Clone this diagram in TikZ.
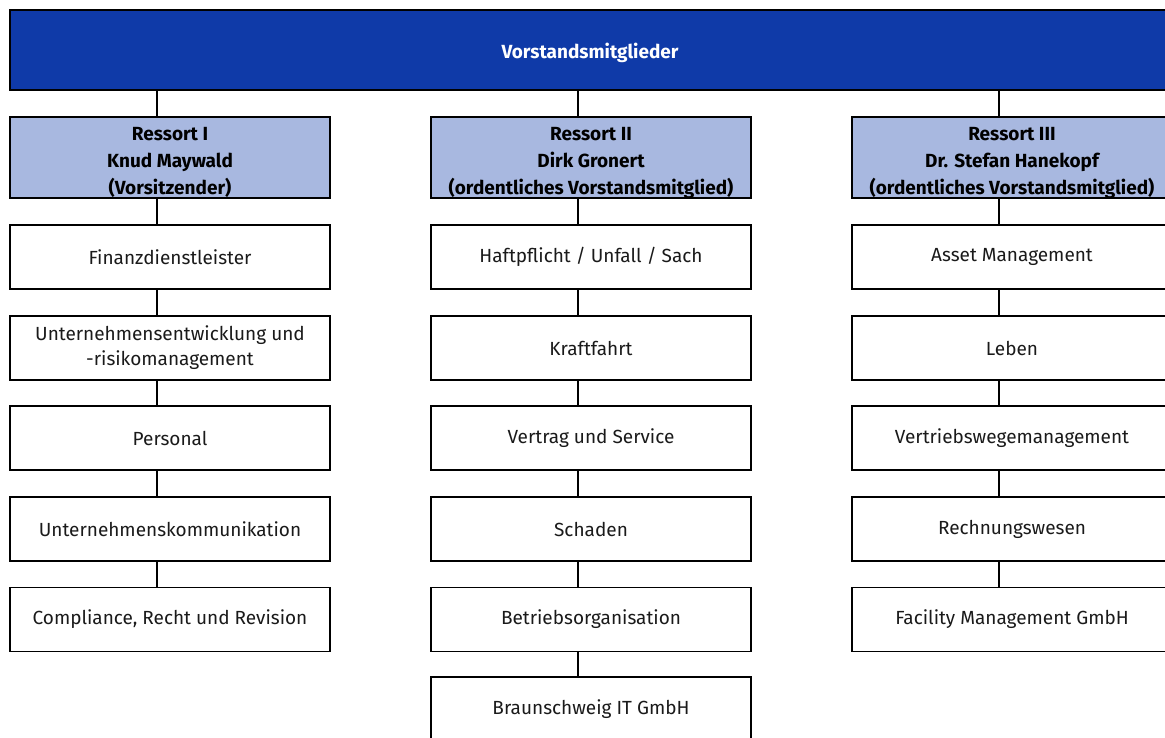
\documentclass[tikz,border=0pt]{standalone}
\usepackage{fontspec}
\setmainfont{Fira Sans}
\definecolor{barblue}{HTML}{0F3AA8}
\definecolor{headblue}{HTML}{A8B8E0}
\definecolor{txt}{HTML}{1A1A1A}
\newcommand{\topstrut}{\rule{0pt}{23.5pt}}
\begin{document}
\begin{tikzpicture}[x=1pt,y=-1pt,
  box/.style={draw=black,line width=1.8pt,fill=white,minimum width=320pt,minimum height=64pt,
    inner sep=0pt,align=center,font=\fontsize{19}{25}\selectfont,text=txt},
  headbox/.style={box,fill=headblue,minimum height=81pt,font=\bfseries\fontsize{19}{27}\selectfont,text=black},
  link/.style={draw=black,line width=1.6pt}]
\clip (0,0) rectangle (1165,738);
\fill[white] (0,0) rectangle (1165,738);
\node[draw=black,line width=1.8pt,fill=barblue,minimum width=1160pt,minimum height=80pt,inner sep=0pt,
  text=white,font=\bfseries\fontsize{19}{20}\selectfont] (bar) at (590,50) {\rule{0pt}{20.5pt}Vorstandsmitglieder};
% column centres: 170, 591, 1012
\node[headbox] (h1) at (170,157.5) {\topstrut Ressort I\\Knud Maywald\\(Vorsitzender)};
\node[headbox] (h2) at (591,157.5) {\topstrut Ressort II\\Dirk Gronert\\(ordentliches Vorstandsmitglied)};
\node[headbox] (h3) at (1012,157.5) {\topstrut Ressort III\\Dr. Stefan Hanekopf\\(ordentliches Vorstandsmitglied)};
% column 1
\node[box] (a1) at (170,257) {Finanzdienstleister};
\node[box] (a2) at (170,348) {Unternehmensentwicklung und\\-risikomanagement};
\node[box] (a3) at (170,438) {Personal};
\node[box] (a4) at (170,529) {Unternehmenskommunikation};
\node[box] (a5) at (170,619.5) {Compliance, Recht und Revision};
% column 2
\node[box] (b1) at (591,257) {Haftpflicht / Unfall / Sach};
\node[box] (b2) at (591,348) {Kraftfahrt};
\node[box] (b3) at (591,438) {Vertrag und Service};
\node[box] (b4) at (591,529) {Schaden};
\node[box] (b5) at (591,619.5) {Betriebsorganisation};
\node[box] (b6) at (591,709) {Braunschweig IT GmbH};
% column 3
\node[box] (c1) at (1012,257) {Asset Management};
\node[box] (c2) at (1012,348) {Leben};
\node[box] (c3) at (1012,438) {Vertriebswegemanagement};
\node[box] (c4) at (1012,529) {Rechnungswesen};
\node[box] (c5) at (1012,619.5) {Facility Management GmbH};
% connectors
\foreach \h in {h1,h2,h3}
  \draw[link] ([xshift=-13pt]\h.north) -- ([xshift=-13pt]\h.north |- bar.south);
\foreach \u/\v in {h1/a1,a1/a2,a2/a3,a3/a4,a4/a5,h2/b1,b1/b2,b2/b3,b3/b4,b4/b5,b5/b6,h3/c1,c1/c2,c2/c3,c3/c4,c4/c5}
  \draw[link] ([xshift=-13pt]\u.south) -- ([xshift=-13pt]\v.north);
\end{tikzpicture}
\end{document}
